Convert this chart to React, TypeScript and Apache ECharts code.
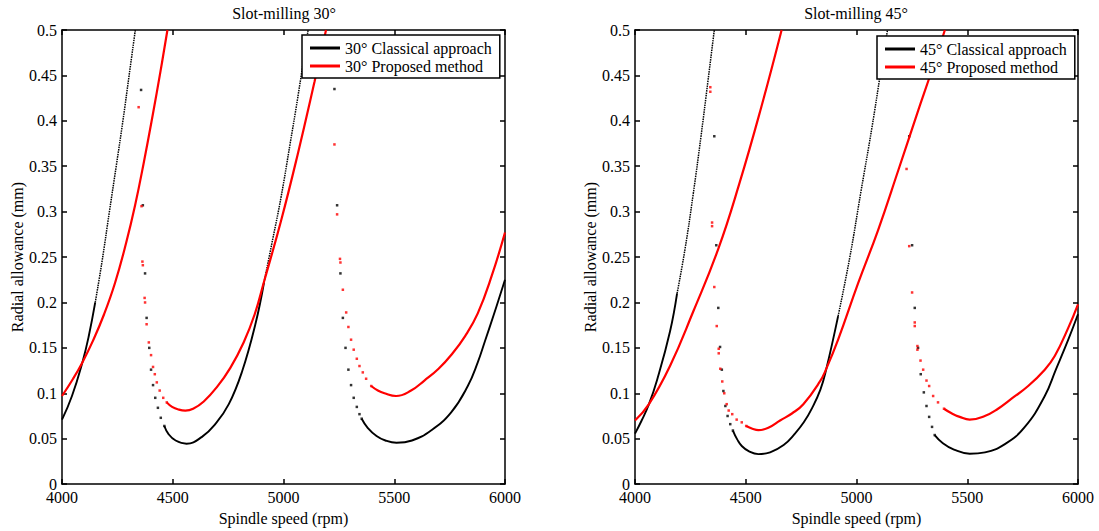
import React, { useEffect, useRef } from "react";
import * as echarts from "echarts";

const FONT = '"Liberation Serif", "Times New Roman", serif';

const titles = ["Slot-milling 30°", "Slot-milling 45°"];
const legendNames = [
  ["30° Classical approach", "30° Proposed method"],
  ["45° Classical approach", "45° Proposed method"],
];
const xTicks = { min: 4000, max: 6000, step: 500 };
const yTicks = { min: 0, max: 0.5, step: 0.05 };

// ---------- 30° ----------
const blackA30 = [[4000, 0.071], [4045, 0.097], [4092, 0.134], [4120, 0.162], [4150, 0.2]];
const blackA30Top = [[4150, 0.2], [4180, 0.244], [4214, 0.3], [4246, 0.352], [4275, 0.4], [4303, 0.45], [4331, 0.5]];
const redA30 = [[4000, 0.097], [4050, 0.116], [4092, 0.134], [4140, 0.158], [4190, 0.187], [4240, 0.222], [4290, 0.266], [4330, 0.307], [4370, 0.355], [4410, 0.407], [4445, 0.455], [4476, 0.5]];
const blackB30Dots = [[4357, 0.434], [4365, 0.307], [4375, 0.232], [4382, 0.183], [4394, 0.15], [4402, 0.126], [4411, 0.109], [4421, 0.095], [4433, 0.084], [4446, 0.073], [4462, 0.064]];
const blackB30 = [[4462, 0.064], [4481, 0.055], [4513, 0.048], [4562, 0.0445], [4632, 0.052], [4692, 0.066], [4753, 0.088], [4813, 0.124], [4873, 0.176], [4912, 0.222]];
const blackB30Top = [[4912, 0.222], [4950, 0.268], [4989, 0.316], [5030, 0.375], [5064, 0.425], [5111, 0.5]];
const redB30Dots = [[4346, 0.415], [4359, 0.306], [4363, 0.245], [4365, 0.241], [4373, 0.205], [4375, 0.2], [4382, 0.176], [4392, 0.156], [4402, 0.142], [4411, 0.129], [4419, 0.121], [4428, 0.112], [4441, 0.103], [4457, 0.095], [4473, 0.09]];
const redB30 = [[4473, 0.09], [4497, 0.085], [4528, 0.082], [4557, 0.081], [4592, 0.083], [4640, 0.091], [4700, 0.107], [4760, 0.128], [4820, 0.156], [4870, 0.187], [4911, 0.222], [4989, 0.29], [5064, 0.363], [5140, 0.443], [5192, 0.5]];
const blackC30Dots = [[5230, 0.435], [5242, 0.307], [5257, 0.232], [5268, 0.183], [5280, 0.15], [5293, 0.126], [5305, 0.109], [5317, 0.095], [5331, 0.085], [5343, 0.077], [5353, 0.072]];
const blackC30 = [[5353, 0.072], [5380, 0.062], [5420, 0.053], [5460, 0.048], [5510, 0.0455], [5580, 0.048], [5666, 0.059], [5757, 0.079], [5832, 0.108], [5877, 0.134], [5909, 0.157], [5950, 0.187], [6000, 0.225]];
const redC30Dots = [[5230, 0.374], [5242, 0.297], [5255, 0.248], [5257, 0.244], [5268, 0.214], [5283, 0.189], [5293, 0.173], [5305, 0.159], [5317, 0.148], [5331, 0.138], [5343, 0.13], [5358, 0.123], [5373, 0.116], [5396, 0.108]];
const redC30 = [[5396, 0.108], [5426, 0.103], [5456, 0.1], [5508, 0.097], [5576, 0.103], [5636, 0.114], [5700, 0.127], [5760, 0.143], [5820, 0.163], [5877, 0.188], [5941, 0.23], [6000, 0.277]];

// ---------- 45° ----------
const blackA45 = [[4000, 0.0556], [4030, 0.07], [4063, 0.088], [4100, 0.115], [4158, 0.168], [4190, 0.21]];
const blackA45Top = [[4190, 0.21], [4226, 0.259], [4262, 0.318], [4298, 0.383], [4330, 0.445], [4358, 0.5]];
const redA45 = [[4000, 0.07], [4063, 0.088], [4158, 0.13], [4263, 0.19], [4376, 0.259], [4470, 0.33], [4570, 0.415], [4662, 0.5]];
const blackB45Dots = [[4358, 0.383], [4367, 0.263], [4376, 0.194], [4384, 0.151], [4392, 0.126], [4399, 0.1025], [4408, 0.086], [4418, 0.075], [4430, 0.066], [4442, 0.059]];
const blackB45 = [[4442, 0.059], [4462, 0.049], [4482, 0.042], [4515, 0.036], [4557, 0.033], [4610, 0.035], [4671, 0.043], [4720, 0.055], [4762, 0.068], [4800, 0.084], [4837, 0.104], [4862, 0.125], [4917, 0.185]];
const blackB45Top = [[4917, 0.185], [4970, 0.25], [5020, 0.322], [5070, 0.393], [5110, 0.455], [5140, 0.5]];
const redB45Dots = [[4340, 0.437], [4340, 0.432], [4348, 0.288], [4348, 0.284], [4358, 0.217], [4369, 0.174], [4378, 0.149], [4378, 0.144], [4385, 0.127], [4394, 0.113], [4403, 0.1], [4414, 0.088], [4423, 0.081], [4439, 0.077], [4459, 0.071], [4482, 0.068], [4502, 0.064]];
const redB45 = [[4502, 0.064], [4530, 0.061], [4557, 0.0594], [4602, 0.062], [4655, 0.07], [4710, 0.078], [4760, 0.088], [4835, 0.113], [4862, 0.126], [4917, 0.159], [5007, 0.221], [5098, 0.28], [5188, 0.345], [5278, 0.411], [5338, 0.454], [5399, 0.5]];
const blackC45Dots = [[5238, 0.383], [5251, 0.263], [5263, 0.194], [5278, 0.15], [5290, 0.121], [5304, 0.101], [5316, 0.086], [5328, 0.074], [5341, 0.063], [5353, 0.054]];
const blackC45 = [[5353, 0.054], [5390, 0.045], [5440, 0.038], [5511, 0.0335], [5580, 0.035], [5670, 0.044], [5760, 0.063], [5850, 0.097], [5900, 0.126], [5956, 0.159], [6000, 0.187]];
const redC45Dots = [[5226, 0.347], [5238, 0.262], [5251, 0.211], [5263, 0.178], [5263, 0.174], [5275, 0.152], [5275, 0.148], [5289, 0.136], [5301, 0.126], [5316, 0.114], [5328, 0.108], [5346, 0.097], [5368, 0.09], [5395, 0.083]];
const redC45 = [[5395, 0.083], [5429, 0.078], [5466, 0.074], [5511, 0.071], [5579, 0.075], [5639, 0.083], [5700, 0.094], [5775, 0.108], [5850, 0.126], [5895, 0.141], [5956, 0.172], [6000, 0.198]];

const BLACK = "#000000";
const RED = "#ff0000";

type Kind = "solid" | "dotted" | "dots";

function mk(name: string, data: number[][], color: string, g: number, kind: Kind) {
  const axes = { xAxisIndex: g * 2, yAxisIndex: g * 2 };
  if (kind === "dots") {
    return {
      type: "scatter", name, data, ...axes, symbol: "rect", symbolSize: 2.5,
      itemStyle: { color }, silent: true, z: 3,
    };
  }
  return {
    type: "line", name, data, ...axes, showSymbol: false, symbol: "none", smooth: 0.45,
    lineStyle: {
      color,
      width: kind === "dotted" ? 1.5 : color === RED ? 2.2 : 1.9,
      type: kind === "dotted" ? [1.5, 0.9] : "solid",
    },
    itemStyle: { color }, silent: true, z: color === RED ? 4 : 3,
  };
}

const grids = [
  { left: 62, top: 30, width: 443, height: 457 },
  { left: 635, top: 30, width: 443, height: 457 },
];

function xAxes(g: number) {
  const common = {
    type: "value", gridIndex: g, min: xTicks.min, max: xTicks.max, interval: xTicks.step,
    splitLine: { show: false },
    axisLine: { show: true, onZero: false, lineStyle: { color: "#000", width: 1.5 } },
    axisTick: { show: true, inside: true, length: 5, lineStyle: { color: "#000", width: 1.5 } },
  };
  return [
    {
      ...common, position: "bottom",
      axisLabel: { show: true, margin: 5, color: "#000", fontFamily: FONT, fontSize: 16, formatter: (v: number) => String(v) },
      name: "Spindle speed (rpm)", nameLocation: "middle", nameGap: 22,
      nameTextStyle: { color: "#000", fontFamily: FONT, fontSize: 16 },
    },
    { ...common, position: "top", axisLabel: { show: false } },
  ];
}

function yAxes(g: number) {
  const common = {
    type: "value", gridIndex: g, min: yTicks.min, max: yTicks.max, interval: yTicks.step,
    splitLine: { show: false },
    axisLine: { show: true, onZero: false, lineStyle: { color: "#000", width: 1.5 } },
    axisTick: { show: true, inside: true, length: 5, lineStyle: { color: "#000", width: 1.5 } },
  };
  return [
    {
      ...common, position: "left",
      axisLabel: {
        show: true, margin: 5, color: "#000", fontFamily: FONT, fontSize: 16,
        formatter: (v: number) => String(Math.round(v * 100) / 100),
      },
      name: "Radial allowance (mm)", nameLocation: "middle", nameGap: 37,
      nameTextStyle: { color: "#000", fontFamily: FONT, fontSize: 16 },
    },
    { ...common, position: "right", axisLabel: { show: false } },
  ];
}

function legendFor(g: number, left: number, top: number) {
  return {
    orient: "vertical", left, top, padding: [5, 8, 4, 8], itemGap: 2,
    itemWidth: 30, itemHeight: 3, borderColor: "#000", borderWidth: 1.5,
    backgroundColor: "#fff", selectedMode: false, z: 10,
    textStyle: { fontFamily: FONT, fontSize: 16, color: "#000", lineHeight: 16 },
    data: legendNames[g].map((n) => ({ name: n, icon: "rect" })),
  };
}

export default function App() {
  const ref = useRef<HTMLDivElement>(null);
  useEffect(() => {
    if (!ref.current) return;
    const chart = echarts.init(ref.current, null, { renderer: "svg" });
    const [c30, p30] = legendNames[0];
    const [c45, p45] = legendNames[1];
    const series = [
      mk(c30, blackA30, BLACK, 0, "solid"),
      mk(c30, blackA30Top, BLACK, 0, "dotted"),
      mk(c30, blackB30Dots, BLACK, 0, "dots"),
      mk(c30, blackB30, BLACK, 0, "solid"),
      mk(c30, blackB30Top, BLACK, 0, "dotted"),
      mk(c30, blackC30Dots, BLACK, 0, "dots"),
      mk(c30, blackC30, BLACK, 0, "solid"),
      mk(p30, redA30, RED, 0, "solid"),
      mk(p30, redB30Dots, RED, 0, "dots"),
      mk(p30, redB30, RED, 0, "solid"),
      mk(p30, redC30Dots, RED, 0, "dots"),
      mk(p30, redC30, RED, 0, "solid"),
      mk(c45, blackA45, BLACK, 1, "solid"),
      mk(c45, blackA45Top, BLACK, 1, "dotted"),
      mk(c45, blackB45Dots, BLACK, 1, "dots"),
      mk(c45, blackB45, BLACK, 1, "solid"),
      mk(c45, blackB45Top, BLACK, 1, "dotted"),
      mk(c45, blackC45Dots, BLACK, 1, "dots"),
      mk(c45, blackC45, BLACK, 1, "solid"),
      mk(p45, redA45, RED, 1, "solid"),
      mk(p45, redB45Dots, RED, 1, "dots"),
      mk(p45, redB45, RED, 1, "solid"),
      mk(p45, redC45Dots, RED, 1, "dots"),
      mk(p45, redC45, RED, 1, "solid"),
    ];
    chart.setOption({
      animation: false,
      backgroundColor: "#fff",
      title: [
        { text: titles[0], left: 284, top: 5, padding: 0, textAlign: "center", textStyle: { fontFamily: FONT, fontSize: 16, fontWeight: "normal", color: "#000" } },
        { text: titles[1], left: 856, top: 5, padding: 0, textAlign: "center", textStyle: { fontFamily: FONT, fontSize: 16, fontWeight: "normal", color: "#000" } },
      ],
      legend: [legendFor(0, 302, 35), legendFor(1, 877, 36)],
      grid: grids,
      xAxis: [...xAxes(0), ...xAxes(1)],
      yAxis: [...yAxes(0), ...yAxes(1)],
      series,
    });
    return () => chart.dispose();
  }, []);
  return (
    <div
      ref={ref}
      style={{ position: "fixed", left: 0, top: 0, width: 1099, height: 531, background: "#fff" }}
    />
  );
}
